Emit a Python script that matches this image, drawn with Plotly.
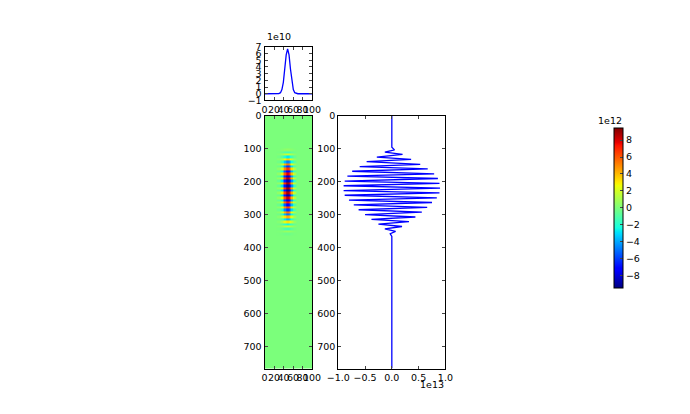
import plotly.graph_objects as go

# ---------------- data ----------------
# top panel: horizontal profile (x position 0..100, value in 1e10)
top_x = [0, 20, 30, 33.5, 36.5, 39.5, 42.5, 45.5, 48.5, 51.5, 54.5, 57.5, 60.5, 63.5, 67, 70, 80, 100]
top_y_e10 = [0, 0, 0.02, 0.16, 0.62, 1.7, 3.7, 5.8, 6.7,
             5.8, 3.7, 1.7, 0.62, 0.16, 0.02, 0, 0, 0]
top_y = [v * 1e10 for v in top_y_e10]

# right panel: vertical trace (depth, amplitude in 1e12) – zig-zag vertices
depth = [0, 95, 103, 110, 117, 125, 132, 139, 147, 154, 161, 168, 176, 183, 190, 198,
         205, 212, 219, 227, 234, 241, 249, 256, 263, 270, 278, 285, 292, 300,
         307, 314, 321, 329, 336, 343, 351, 358, 366, 768]
amp_e12 = [0, 0, 0.5, -1.3, 2.0, -2.8, 3.6, -4.7, 5.3, -6.0, 6.7, -7.4, 7.9, -8.3, 8.6, -8.8,
           8.9, -9.0, 9.0, -9.0, 8.9, -8.8, 8.4, -8.0, 7.5, -7.1, 6.6, -6.2, 5.6, -5.0,
           4.4, -3.8, 3.2, -2.5, 1.9, -1.3, 0.7, -0.3, 0, 0]
amp = [a * 1e12 for a in amp_e12]

# colour limits
z_lim = 9.45e12

# tick labels
top_x_ticks = [0, 20, 40, 60, 80, 100]
top_y_ticks = [-1, 0, 1, 2, 3, 4, 5, 6, 7]
depth_ticks = [0, 100, 200, 300, 400, 500, 600, 700]
amp_ticks = [-1.0, -0.5, 0.0, 0.5, 1.0]
cbar_ticks = [-8, -6, -4, -2, 0, 2, 4, 6, 8]

# heat map built from the two profiles (column amplitude ~ sqrt of energy profile)
w_max = max(top_y)
col_w = [(v / w_max) ** 0.5 for v in top_y]
z = [[a * w for w in col_w] for a in amp]

# ---------------- matplotlib "jet" colour scale ----------------
_jet = {
    "r": [(0, 0), (0.35, 0), (0.66, 1), (0.89, 1), (1, 0.5)],
    "g": [(0, 0), (0.125, 0), (0.375, 1), (0.64, 1), (0.91, 0), (1, 0)],
    "b": [(0, 0.5), (0.11, 1), (0.34, 1), (0.65, 0), (1, 0)],
}


def _chan(pts, t):
    for (t0, v0), (t1, v1) in zip(pts[:-1], pts[1:]):
        if t0 <= t <= t1:
            return v0 + (v1 - v0) * (t - t0) / (t1 - t0) if t1 > t0 else v1
    return pts[-1][1]


stops = [0, 0.11, 0.125, 0.34, 0.35, 0.375, 0.5, 0.64, 0.65, 0.66, 0.89, 0.91, 1]
jet = []
for t in stops:
    r, g, b = (_chan(_jet[c], t) for c in "rgb")
    jet.append([t, f"rgb({round(r*255)},{round(g*255)},{round(b*255)})"])

# ---------------- figure ----------------
W, H = 690, 414
FONT = dict(family="DejaVu Sans", size=9.5, color="black")
MINUS = "\u2212"


def px_x(a, b):
    return [a / W, b / W]


def px_y(top, bottom):
    return [1 - bottom / H, 1 - top / H]


axis_style = dict(showline=True, linecolor="black", linewidth=1, mirror="allticks",
                  ticks="inside", ticklen=3, tickwidth=1, tickcolor="#444444",
                  showgrid=False, zeroline=False, tickfont=FONT, tickangle=0)

fig = go.Figure()

fig.add_trace(go.Scatter(x=top_x, y=top_y, mode="lines",
                         line=dict(color="#0000ff", width=1.3),
                         xaxis="x", yaxis="y", showlegend=False, hoverinfo="skip"))

fig.add_trace(go.Heatmap(x=top_x, y=depth, z=z, colorscale=jet, zmin=-z_lim, zmax=z_lim,
                         zsmooth=False, xaxis="x2", yaxis="y2", hoverinfo="skip",
                         colorbar=dict(thickness=9, len=160, lenmode="pixels",
                                       x=621 / W, xanchor="left", xpad=0,
                                       y=1 - 207.3 / H, yanchor="middle", ypad=0,
                                       outlinewidth=1, outlinecolor="black",
                                       tickvals=[v * 1e12 for v in cbar_ticks],
                                       ticktext=[f"{v}".replace("-", MINUS) for v in cbar_ticks],
                                       ticks="inside", ticklen=3, tickcolor="#444444",
                                       tickfont=FONT)))

fig.add_trace(go.Scatter(x=amp, y=depth, mode="lines",
                         line=dict(color="#0000ff", width=1.3),
                         xaxis="x3", yaxis="y3", showlegend=False, hoverinfo="skip"))

fig.update_layout(
    width=W, height=H, margin=dict(l=0, r=0, t=0, b=0),
    paper_bgcolor="white", plot_bgcolor="white", showlegend=False,
    xaxis=dict(axis_style, domain=px_x(260.5, 309.5), range=[0, 100], anchor="y",
               tickvals=top_x_ticks, ticktext=[str(v) for v in top_x_ticks]),
    yaxis=dict(axis_style, domain=px_y(42, 97), range=[-1e10, 7e10], anchor="x",
               tickvals=[v * 1e10 for v in top_y_ticks],
               ticktext=[f"{v}".replace("-", MINUS) for v in top_y_ticks]),
    xaxis2=dict(axis_style, domain=px_x(260.5, 309.5), range=[0, 100], anchor="y2",
                tickvals=top_x_ticks, ticktext=[str(v) for v in top_x_ticks]),
    yaxis2=dict(axis_style, domain=px_y(113, 372.5), range=[768, 0], anchor="x2",
                tickvals=depth_ticks, ticktext=[str(v) for v in depth_ticks]),
    xaxis3=dict(axis_style, domain=px_x(336.5, 447), range=[-1e13, 1e13], anchor="y3",
                tickvals=[v * 1e13 for v in amp_ticks],
                ticktext=[f"{v:.1f}".replace("-", MINUS) for v in amp_ticks]),
    yaxis3=dict(axis_style, domain=px_y(113, 372.5), range=[768, 0], anchor="x3",
                tickvals=depth_ticks, ticktext=[str(v) for v in depth_ticks]),
    annotations=[
        dict(text="1e10", x=260.5 / W, y=1 - 39 / H, xref="paper", yref="paper",
             xanchor="left", yanchor="bottom", showarrow=False, font=FONT),
        dict(text="1e13", x=448 / W, y=1 - 381 / H, xref="paper", yref="paper",
             xanchor="right", yanchor="top", showarrow=False, font=FONT),
        dict(text="1e12", x=602 / W, y=1 - 125 / H, xref="paper", yref="paper",
             xanchor="left", yanchor="bottom", showarrow=False, font=FONT),
    ],
)

fig.write_html("out.html")
